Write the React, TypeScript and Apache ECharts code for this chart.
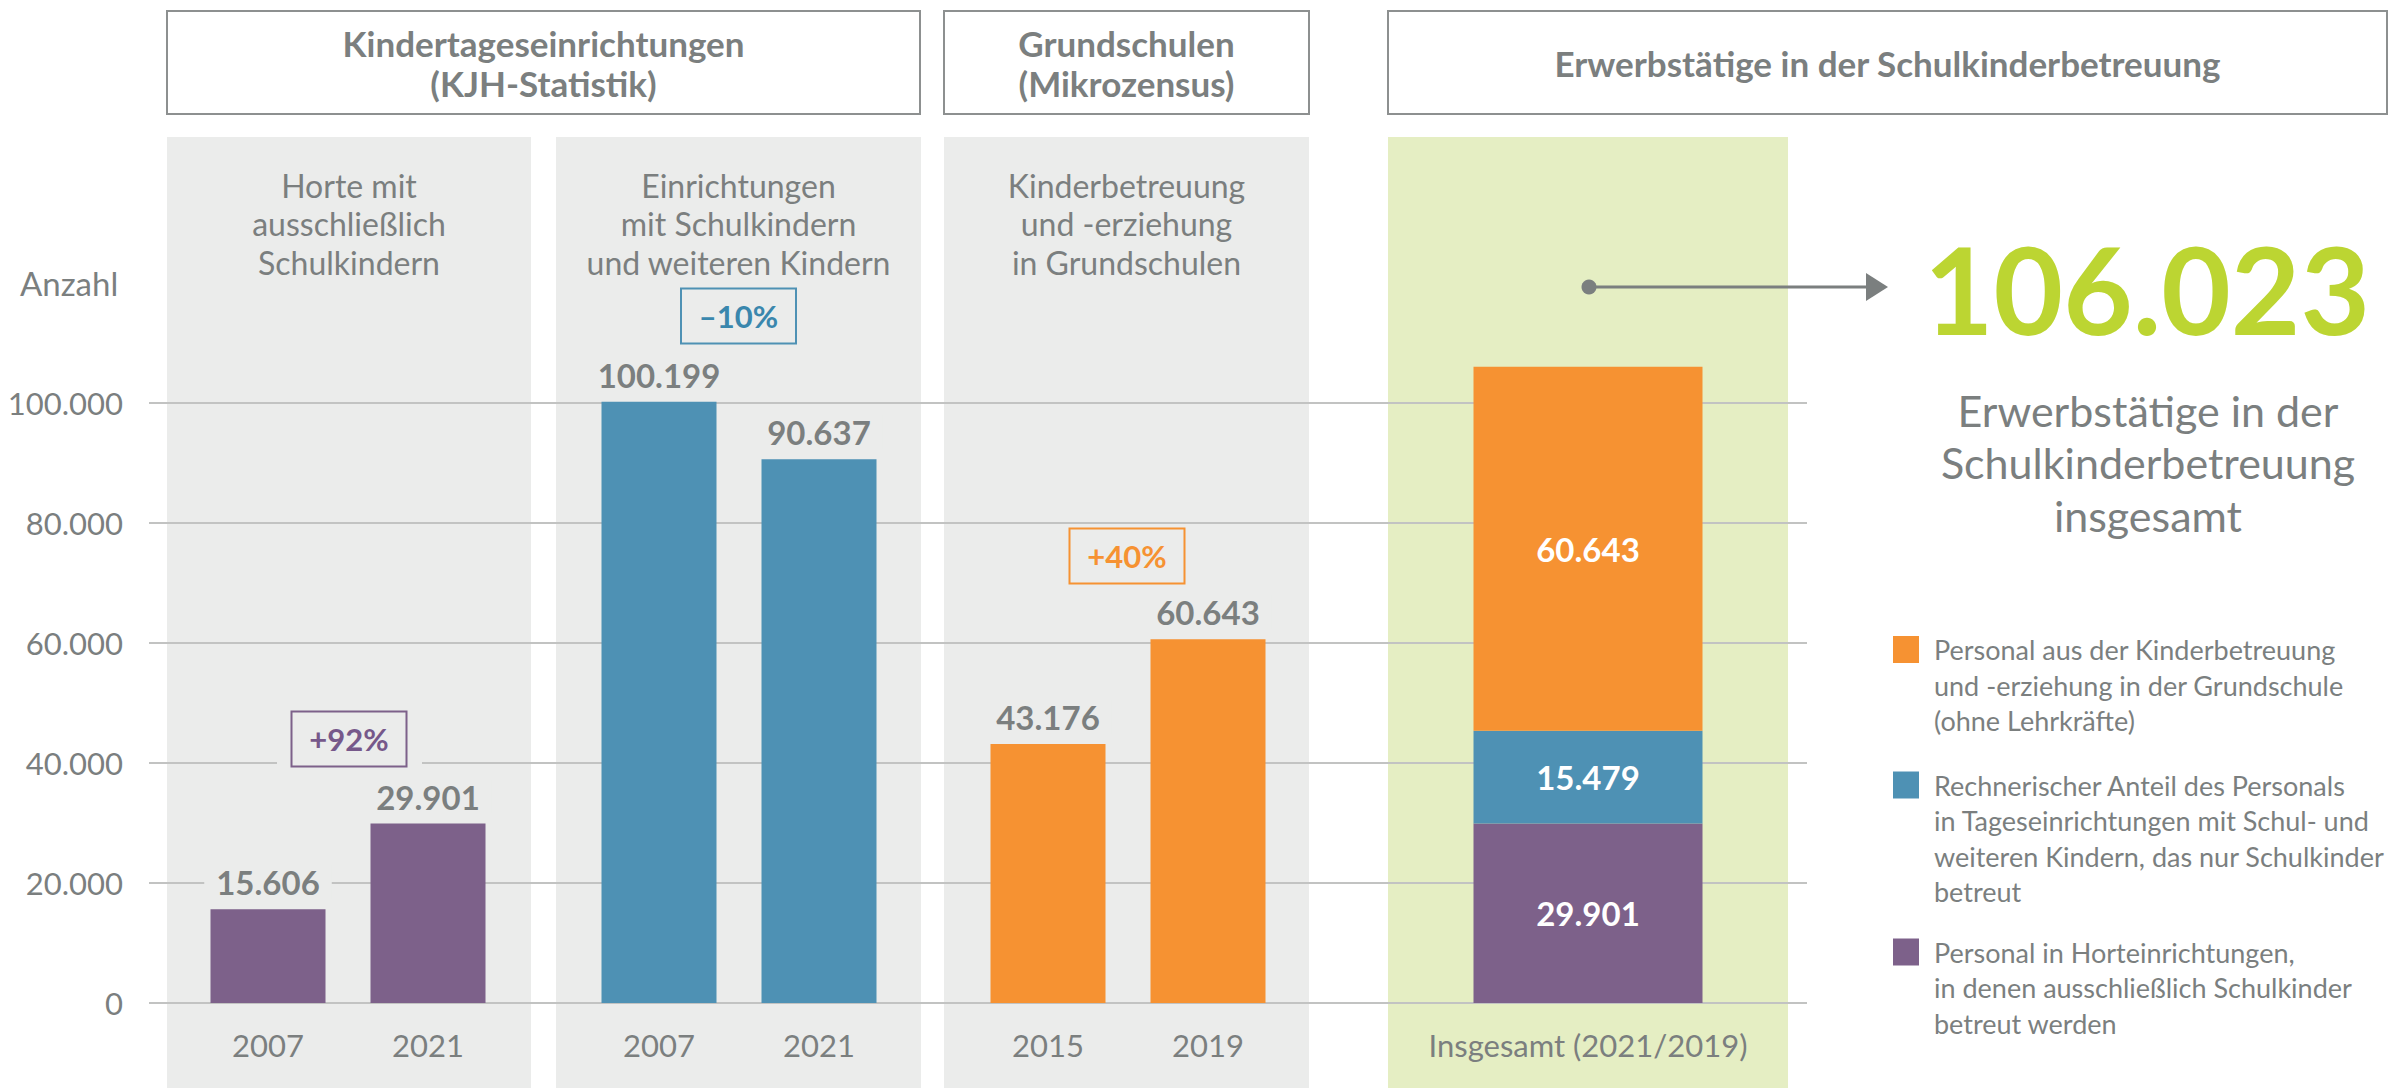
import React, { useEffect, useRef } from "react";
import * as echarts from "echarts";

// ---------- data ----------
const horteYears = ["2007", "2021"];
const horteValues = [15606, 29901];
const einrYears = ["2007", "2021"];
const einrValues = [100199, 90637];
const gsYears = ["2015", "2019"];
const gsValues = [43176, 60643];
const totalCategory = ["Insgesamt (2021/2019)"];
const totalHorte = [29901];
const totalEinr = [15479];
const totalGs = [60643];
const totalValueText = "106.023";
const changeLabels = ["+92%", "\u201310%", "+40%"];
const yMin = 0;
const yMax = 100000;
const yInterval = 20000;

const headerTitles = [
  "Kindertageseinrichtungen\n(KJH-Statistik)",
  "Grundschulen\n(Mikrozensus)",
  "Erwerbstätige in der Schulkinderbetreuung",
];
const panelTitles = [
  "Horte mit\nausschließlich\nSchulkindern",
  "Einrichtungen\nmit Schulkindern\nund weiteren Kindern",
  "Kinderbetreuung\nund -erziehung\nin Grundschulen",
];
const legendNames = [
  "Personal aus der Kinderbetreuung\nund -erziehung in der Grundschule\n(ohne Lehrkräfte)",
  "Rechnerischer Anteil des Personals\nin Tageseinrichtungen mit Schul- und\nweiteren Kindern, das nur Schulkinder\nbetreut",
  "Personal in Horteinrichtungen,\nin denen ausschließlich Schulkinder\nbetreut werden",
];
const totalDescription = "Erwerbstätige in der\nSchulkinderbetreuung\ninsgesamt";

// ---------- styles ----------
const FONT = "Lato";
const GRAY_TEXT = "#7b7f7f";
const PANEL_GRAY = "#ebeceb";
const PANEL_GREEN = "#e5eec3";
const PURPLE = "#7d618a";
const BLUE = "#4e91b4";
const ORANGE = "#f69232";
const LIME = "#bcd532";
const GRID_LINE = "#c2c3c2";

const fmt = (v: number) => String(v).replace(/\B(?=(\d{3})+(?!\d))/g, ".");

const TOP = 403;
const BOTTOM = 88;

export default function App() {
  const ref = useRef<HTMLDivElement>(null);
  useEffect(() => {
    if (!ref.current) return;
    const chart = echarts.init(ref.current, null, { renderer: "svg" });

    const valueLabel = (bg: string) => ({
      show: true,
      position: "top",
      distance: 10,
      formatter: (p: any) => fmt(p.value),
      color: GRAY_TEXT,
      fontFamily: FONT,
      fontWeight: "bold",
      fontSize: 33,
      lineHeight: 34,
      backgroundColor: bg,
      padding: [0, 12],
    });
    const innerLabel = {
      show: true,
      position: "inside",
      formatter: (p: any) => fmt(p.value),
      color: "#ffffff",
      fontFamily: FONT,
      fontWeight: "bold",
      fontSize: 33,
    };
    const catAxis = (gi: number, data: string[]) => ({
      type: "category",
      gridIndex: gi,
      data,
      axisLine: { show: false },
      axisTick: { show: false },
      axisLabel: {
        margin: 26,
        color: GRAY_TEXT,
        fontFamily: FONT,
        fontSize: 31,
      },
      splitLine: { show: false },
    });
    const hiddenY = (gi: number) => ({
      type: "value",
      gridIndex: gi,
      min: yMin,
      max: yMax,
      interval: yInterval,
      show: false,
      splitLine: { show: false },
    });

    const textStyle = (extra: any) => ({
      fontFamily: FONT,
      fill: GRAY_TEXT,
      ...extra,
    });

    const panels = [
      { x: 167, w: 364, fill: PANEL_GRAY },
      { x: 556, w: 365, fill: PANEL_GRAY },
      { x: 944, w: 365, fill: PANEL_GRAY },
      { x: 1388, w: 400, fill: PANEL_GREEN },
    ];
    const headers = [
      { x: 167, w: 753 },
      { x: 944, w: 365 },
      { x: 1388, w: 999 },
    ];
    const changeBoxes = [
      { cx: 349, cy: 739, color: PURPLE, textColor: "#76588a", gap: [277, 422, 763] },
      { cx: 738.5, cy: 316, color: BLUE, textColor: "#3a87ad", gap: null },
      { cx: 1127, cy: 556, color: ORANGE, textColor: ORANGE, gap: null },
    ];
    const legendColors = [ORANGE, BLUE, PURPLE];
    const legendTops = [636, 771.5, 938.5];

    const graphics: any[] = [];
    panels.forEach((p) =>
      graphics.push({
        type: "rect",
        z: -10,
        silent: true,
        shape: { x: p.x, y: 137, width: p.w, height: 951 },
        style: { fill: p.fill },
      })
    );
    headers.forEach((h, i) => {
      graphics.push({
        type: "rect",
        z: 5,
        shape: { x: h.x, y: 11, width: h.w, height: 103 },
        style: { fill: "#ffffff", stroke: "#8d9090", lineWidth: 2 },
      });
      graphics.push({
        type: "text",
        z: 6,
        x: h.x + h.w / 2,
        y: 62.5,
        style: textStyle({
          text: headerTitles[i],
          fontSize: 35,
          fontWeight: "bold",
          lineHeight: 40,
          align: "center",
          verticalAlign: "middle",
        }),
      });
    });
    panelTitles.forEach((t, i) =>
      graphics.push({
        type: "text",
        z: 6,
        x: panels[i].x + panels[i].w / 2,
        y: 223.5,
        style: textStyle({
          text: t,
          fontSize: 32,
          lineHeight: 38.5,
          align: "center",
          verticalAlign: "middle",
        }),
      })
    );
    graphics.push({
      type: "text",
      z: 6,
      x: 20,
      y: 283,
      style: textStyle({ text: "Anzahl", fontSize: 33, verticalAlign: "middle" }),
    });
    changeBoxes.forEach((b, i) => {
      if (b.gap) {
        graphics.push({
          type: "rect",
          z: 5,
          shape: { x: b.gap[0], y: b.gap[2] - 5, width: b.gap[1] - b.gap[0], height: 10 },
          style: { fill: PANEL_GRAY },
        });
      }
      graphics.push({
        type: "rect",
        z: 6,
        shape: { x: b.cx - 57.5, y: b.cy - 27.5, width: 115, height: 55 },
        style: { fill: PANEL_GRAY, stroke: b.color, lineWidth: 2 },
      });
      graphics.push({
        type: "text",
        z: 7,
        x: b.cx,
        y: b.cy,
        style: {
          text: changeLabels[i],
          fontFamily: FONT,
          fontWeight: "bold",
          fontSize: 31,
          fill: b.textColor,
          align: "center",
          verticalAlign: "middle",
        },
      });
    });
    // arrow to total
    graphics.push({
      type: "line",
      z: 6,
      shape: { x1: 1589, y1: 287, x2: 1870, y2: 287 },
      style: { stroke: GRAY_TEXT, lineWidth: 3 },
    });
    graphics.push({
      type: "circle",
      z: 6,
      shape: { cx: 1589, cy: 287, r: 7.5 },
      style: { fill: GRAY_TEXT },
    });
    graphics.push({
      type: "polygon",
      z: 6,
      shape: { points: [[1866, 273], [1888, 287], [1866, 301]] },
      style: { fill: GRAY_TEXT },
    });
    graphics.push({
      type: "text",
      z: 6,
      x: 2147,
      y: 289,
      style: {
        text: totalValueText,
        fontFamily: FONT,
        fontWeight: "bold",
        fontSize: 120,
        fill: LIME,
        align: "center",
        verticalAlign: "middle",
      },
    });
    graphics.push({
      type: "text",
      z: 6,
      x: 2148,
      y: 462.5,
      style: textStyle({
        text: totalDescription,
        fontSize: 43,
        lineHeight: 52.5,
        align: "center",
        verticalAlign: "middle",
      }),
    });
    legendNames.forEach((n, i) => {
      graphics.push({
        type: "rect",
        z: 6,
        shape: { x: 1893, y: legendTops[i], width: 26, height: 27 },
        style: { fill: legendColors[i] },
      });
      graphics.push({
        type: "text",
        z: 6,
        x: 1934,
        y: legendTops[i] + 13.5 - 17.75,
        style: textStyle({
          text: n,
          fontSize: 27,
          lineHeight: 35.5,
          align: "left",
          verticalAlign: "top",
        }),
      });
    });

    const option: any = {
      animation: false,
      backgroundColor: "#ffffff",
      textStyle: { fontFamily: FONT },
      grid: [
        { left: 149, right: 600, top: TOP, bottom: BOTTOM, containLabel: false },
        { left: 188, width: 320, top: TOP, bottom: BOTTOM },
        { left: 579, width: 320, top: TOP, bottom: BOTTOM },
        { left: 968, width: 320, top: TOP, bottom: BOTTOM },
        { left: 1388, width: 400, top: TOP, bottom: BOTTOM },
      ],
      xAxis: [
        { type: "value", gridIndex: 0, show: false, min: 0, max: 1 },
        catAxis(1, horteYears),
        catAxis(2, einrYears),
        catAxis(3, gsYears),
        catAxis(4, totalCategory),
      ],
      yAxis: [
        {
          type: "value",
          gridIndex: 0,
          min: yMin,
          max: yMax,
          interval: yInterval,
          axisLine: { show: false },
          axisTick: { show: false },
          axisLabel: {
            margin: 26,
            color: GRAY_TEXT,
            fontFamily: FONT,
            fontSize: 31,
            formatter: (v: number) => fmt(v),
          },
          splitLine: { show: true, lineStyle: { color: GRID_LINE, width: 2 } },
        },
        hiddenY(1),
        hiddenY(2),
        hiddenY(3),
        hiddenY(4),
      ],
      graphic: { elements: graphics },
      series: [
        {
          name: "Horte",
          type: "bar",
          xAxisIndex: 1,
          yAxisIndex: 1,
          data: horteValues,
          barWidth: 115,
          clip: false,
          itemStyle: { color: PURPLE },
          label: valueLabel(PANEL_GRAY),
        },
        {
          name: "Einrichtungen",
          type: "bar",
          xAxisIndex: 2,
          yAxisIndex: 2,
          data: einrValues,
          barWidth: 115,
          clip: false,
          itemStyle: { color: BLUE },
          label: valueLabel(PANEL_GRAY),
        },
        {
          name: "Grundschulen",
          type: "bar",
          xAxisIndex: 3,
          yAxisIndex: 3,
          data: gsValues,
          barWidth: 115,
          clip: false,
          itemStyle: { color: ORANGE },
          label: valueLabel(PANEL_GRAY),
        },
        {
          name: legendNames[2],
          type: "bar",
          stack: "total",
          xAxisIndex: 4,
          yAxisIndex: 4,
          data: totalHorte,
          barWidth: 229,
          clip: false,
          itemStyle: { color: PURPLE },
          label: innerLabel,
        },
        {
          name: legendNames[1],
          type: "bar",
          stack: "total",
          xAxisIndex: 4,
          yAxisIndex: 4,
          data: totalEinr,
          barWidth: 229,
          clip: false,
          itemStyle: { color: BLUE },
          label: innerLabel,
        },
        {
          name: legendNames[0],
          type: "bar",
          stack: "total",
          xAxisIndex: 4,
          yAxisIndex: 4,
          data: totalGs,
          barWidth: 229,
          clip: false,
          itemStyle: { color: ORANGE },
          label: innerLabel,
        },
      ],
    };
    chart.setOption(option);
    return () => chart.dispose();
  }, []);

  return (
    <div
      ref={ref}
      style={{ position: "absolute", left: 0, top: 0, width: 2407, height: 1091 }}
    />
  );
}
